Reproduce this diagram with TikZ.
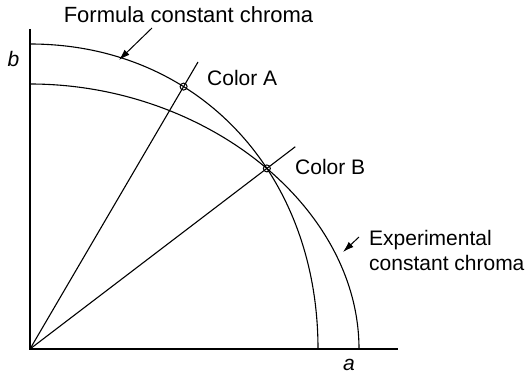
\documentclass[tikz,border=0pt]{standalone}
\usepackage{fontspec}
\setmainfont{Liberation Sans}
\usetikzlibrary{arrows.meta,intersections,calc}

\begin{document}
\begin{tikzpicture}[x=1pt, y=1pt,
  curve/.style={line width=1.1pt},
  axis/.style={line width=1.4pt},
  lbl/.style={font=\fontsize{21}{25}\selectfont, inner sep=0pt},
  marker/.style={draw, circle, line width=1pt, minimum size=7pt,
                 inner sep=0pt},
  >={Latex[length=11pt,width=7pt]}]
\useasboundingbox (-30,-26) rectangle (496,349);
\coordinate (O) at (0,0);
\coordinate (rayA) at (168,287);
% axes
\draw[axis] (0,320) -- (O) -- (368,0);
\node[lbl, font=\fontsize{21}{25}\selectfont\itshape, anchor=base] (b) at (-16.5,282) {b};
\node[lbl, font=\fontsize{21}{25}\selectfont\itshape, anchor=base] (a) at (319,-21) {a};
% formula constant chroma
\draw[curve, name path=formula] (0,305) .. controls (167,305) and (288,177) .. (288,0);
% experimental constant chroma
\draw[curve, name path=expt] (0,265) .. controls (176,265) and (329,142) .. (329,0);
% rays and colours
\path[name path=raypath] (O) -- (rayA);
\path[name intersections={of=formula and raypath, by=A}];
\path[name intersections={of=formula and expt, by=B}];
\coordinate (rayB) at ($(O)!1.12!(B)$);
\draw[curve] (O) -- (rayA);
\draw[curve] (O) -- (rayB);
\node[marker] (mA) at (A) {};
\node[marker] (mB) at (B) {};
\node[lbl, anchor=base west] (colA) at (177,263) {Color A};
\node[lbl, anchor=base west] (colB) at (265,175) {Color B};
% labels with arrows
\node[lbl, font=\fontsize{22}{25}\selectfont, anchor=base] (form) at (158.5,326) {Formula constant chroma};
\node[lbl, anchor=base west, align=left] (exptlbl) at (339,79)
  {Experimental\\constant chroma};
\coordinate (formT) at (122,321);
\coordinate (formH) at (89,289);
\coordinate (exptT) at (329,112);
\coordinate (exptH) at (313,97);
\draw[->, line width=1pt] (formT) -- (formH);
\draw[->, line width=1pt] (exptT) -- (exptH);
\end{tikzpicture}
\end{document}
